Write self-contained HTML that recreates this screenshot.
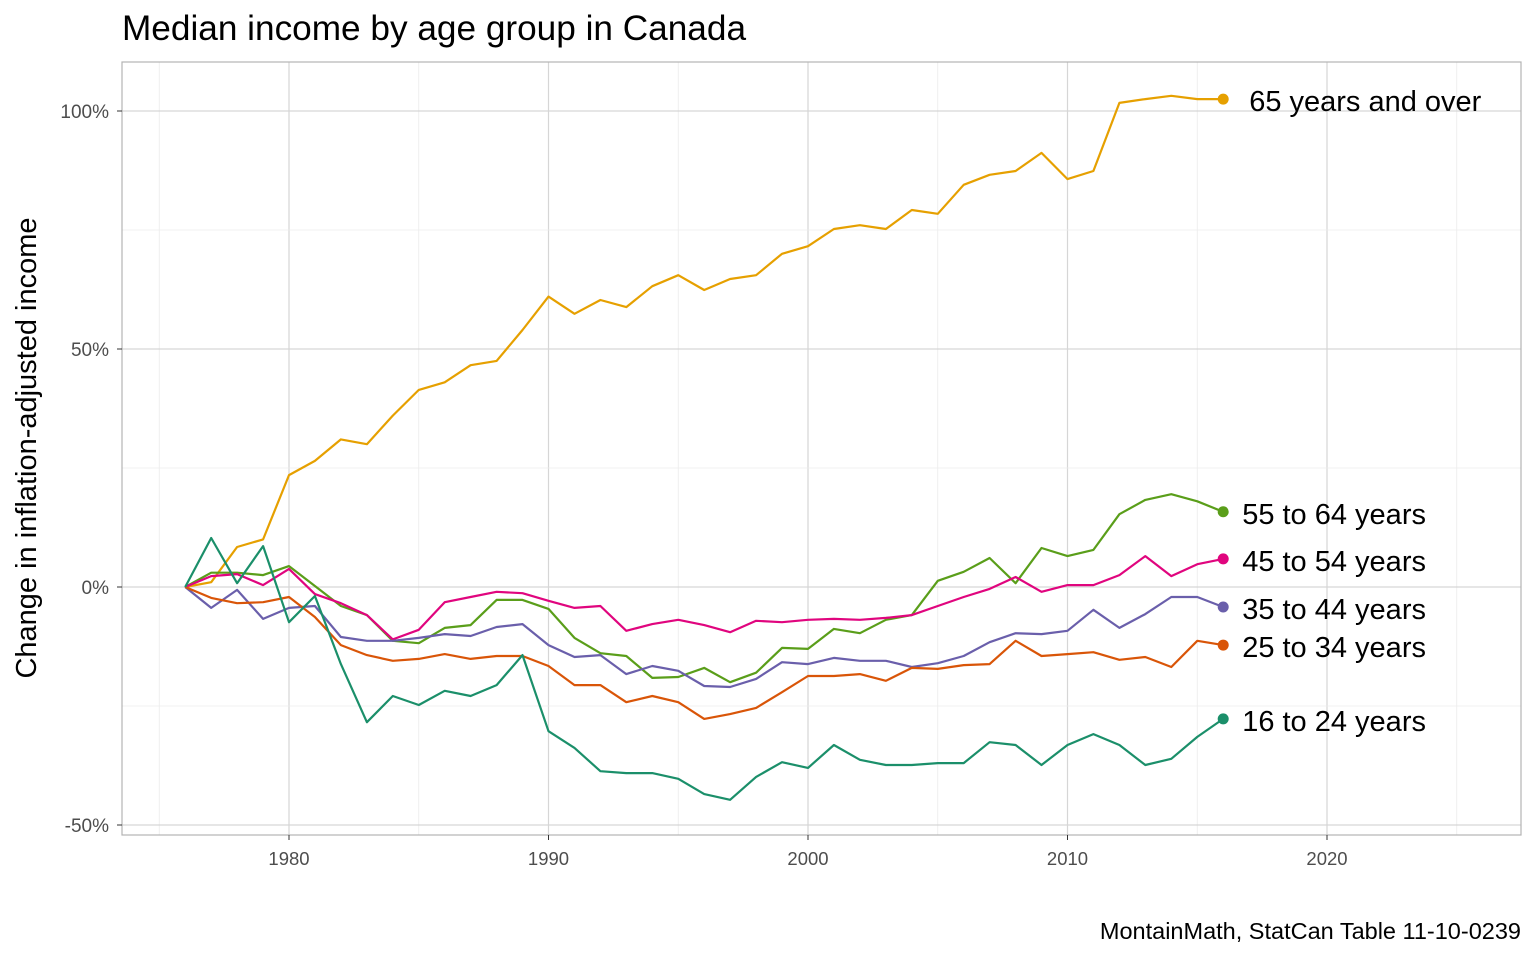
<!DOCTYPE html>
<html><head><meta charset="utf-8"><style>
body{margin:0;background:#fff;font-family:"Liberation Sans",Arial,sans-serif;}
svg text{font-family:"Liberation Sans",Arial,sans-serif;}
</style></head><body>
<svg id="chart" width="1536" height="960" xmlns="http://www.w3.org/2000/svg">
<rect width="1536" height="960" fill="#fff"/>
<text x="122" y="40" font-size="35.2" fill="#000">Median income by age group in Canada</text>
<g id="grid"></g>
<g id="series"></g>
<rect x="122" y="62" width="1399" height="773" fill="none" stroke="#b3b3b3" stroke-width="1.2"/>
<g id="axes"></g>
<text transform="translate(36,448) rotate(-90)" text-anchor="middle" font-size="29" fill="#000">Change in inflation-adjusted income</text>
<text x="1521" y="939" text-anchor="end" font-size="23.5" fill="#000">MontainMath, StatCan Table 11-10-0239</text>
</svg>
<script>
const years=[];for(let y=1976;y<=2016;y++)years.push(y);
const seriesNames=["65 years and over","55 to 64 years","45 to 54 years","35 to 44 years","25 to 34 years","16 to 24 years"];
const colors=["#e6a000","#5a9e1a","#e0057e","#6a5fab","#d95508","#1b8f6a"];
const v65=[0,1,8.4,10,23.5,26.5,31,30,36,41.4,43,46.6,47.5,54,61,57.4,60.3,58.8,63.2,65.5,62.4,64.7,65.5,70,71.6,75.2,76,75.2,79.2,78.4,84.5,86.6,87.4,91.2,85.7,87.4,101.7,102.5,103.2,102.5,102.5];
const v55=[0,3,3,2.5,4.4,0.2,-4,-5.9,-11.3,-11.8,-8.6,-8,-2.7,-2.7,-4.6,-10.7,-13.9,-14.5,-19.1,-18.9,-17,-20,-18,-12.8,-13,-8.8,-9.7,-6.9,-5.9,1.3,3.2,6.1,0.8,8.2,6.5,7.8,15.3,18.3,19.5,18,15.8];
const v45=[0,2.3,2.7,0.4,3.8,-1.5,-3.4,-5.9,-11,-9,-3.2,-2.1,-1,-1.3,-2.9,-4.4,-4,-9.2,-7.8,-6.9,-8,-9.5,-7.1,-7.4,-6.9,-6.7,-6.9,-6.5,-5.9,-4,-2.1,-0.4,2.1,-1,0.4,0.4,2.5,6.5,2.3,4.8,5.9];
const v35=[0,-4.4,-0.6,-6.7,-4.4,-4,-10.5,-11.3,-11.3,-10.7,-9.9,-10.3,-8.4,-7.8,-12.2,-14.7,-14.3,-18.3,-16.6,-17.6,-20.8,-21,-19.3,-15.8,-16.2,-14.9,-15.5,-15.5,-16.8,-16,-14.5,-11.6,-9.7,-9.9,-9.2,-4.8,-8.6,-5.7,-2.1,-2.1,-4.2];
const v25=[0,-2.3,-3.4,-3.2,-2.1,-6.3,-12.2,-14.3,-15.5,-15.1,-14.1,-15.1,-14.5,-14.5,-16.6,-20.6,-20.6,-24.2,-22.9,-24.2,-27.7,-26.7,-25.4,-22.1,-18.7,-18.7,-18.3,-19.7,-17,-17.2,-16.4,-16.2,-11.3,-14.5,-14.1,-13.7,-15.3,-14.7,-16.8,-11.3,-12.2];
const v16=[0,10.3,0.8,8.6,-7.4,-1.9,-16.2,-28.4,-22.9,-24.8,-21.8,-22.9,-20.6,-14.3,-30.3,-33.8,-38.7,-39.1,-39.1,-40.3,-43.5,-44.7,-39.9,-36.8,-38,-33.2,-36.3,-37.4,-37.4,-37,-37,-32.6,-33.2,-37.4,-33.2,-30.9,-33.2,-37.4,-36.1,-31.5,-27.7];
const xTicks=[1980,1990,2000,2010,2020];
const yTicks=[-50,0,50,100];
const yTickLabels=["-50%","0%","50%","100%"];
const allVals=[v65,v55,v45,v35,v25,v16];
const NS="http://www.w3.org/2000/svg";
const X=yr=>289+(yr-1980)*25.95;
const Y=p=>587-p*4.76;
function mk(tag,attrs,parent){const e=document.createElementNS(NS,tag);for(const k in attrs)e.setAttribute(k,attrs[k]);parent.appendChild(e);return e;}
const grid=document.getElementById('grid'),ser=document.getElementById('series'),axes=document.getElementById('axes');
for(let yr=1975;yr<=2025;yr+=5){const l=mk('line',{x1:X(yr),x2:X(yr),y1:62,y2:835,stroke:yr%10==0?'#d6d6d6':'#ebebeb','stroke-width':yr%10==0?1.2:0.8},grid);

}
for(let p=-50;p<=100;p+=25){const l=mk('line',{x1:122,x2:1521,y1:Y(p),y2:Y(p),stroke:p%50==0?'#d6d6d6':'#ebebeb','stroke-width':p%50==0?1.2:0.8},grid);

}
xTicks.forEach(t=>{const tx=mk('text',{x:X(t),y:865,'text-anchor':'middle','font-size':18.5,fill:'#4d4d4d'},axes);tx.textContent=t;


const tk=mk('line',{x1:X(t),x2:X(t),y1:835,y2:840,stroke:'#333'},axes);

});
yTicks.forEach((t,i)=>{const tx=mk('text',{x:109,y:Y(t)+7,'text-anchor':'end','font-size':19,fill:'#4d4d4d'},axes);tx.textContent=yTickLabels[i];


const tk=mk('line',{x1:117,x2:122,y1:Y(t),y2:Y(t),stroke:'#333'},axes);

});
allVals.forEach((vals,i)=>{
const d=vals.map((v,j)=>(j?'L':'M')+X(years[j]).toFixed(1)+','+Y(v).toFixed(1)).join('');
const p=mk('path',{d:d,fill:'none',stroke:colors[i],'stroke-width':2.2,'stroke-linejoin':'round'},ser);


const lx=X(years[years.length-1]),ly=Y(vals[vals.length-1]);
const c=mk('circle',{cx:lx,cy:ly,r:5.5,fill:colors[i]},ser);


const t=mk('text',{x:lx+(i==0?26:19),y:ly+12,'font-size':29,fill:'#000'},ser);t.textContent=seriesNames[i];


});
</script>
</body></html>
